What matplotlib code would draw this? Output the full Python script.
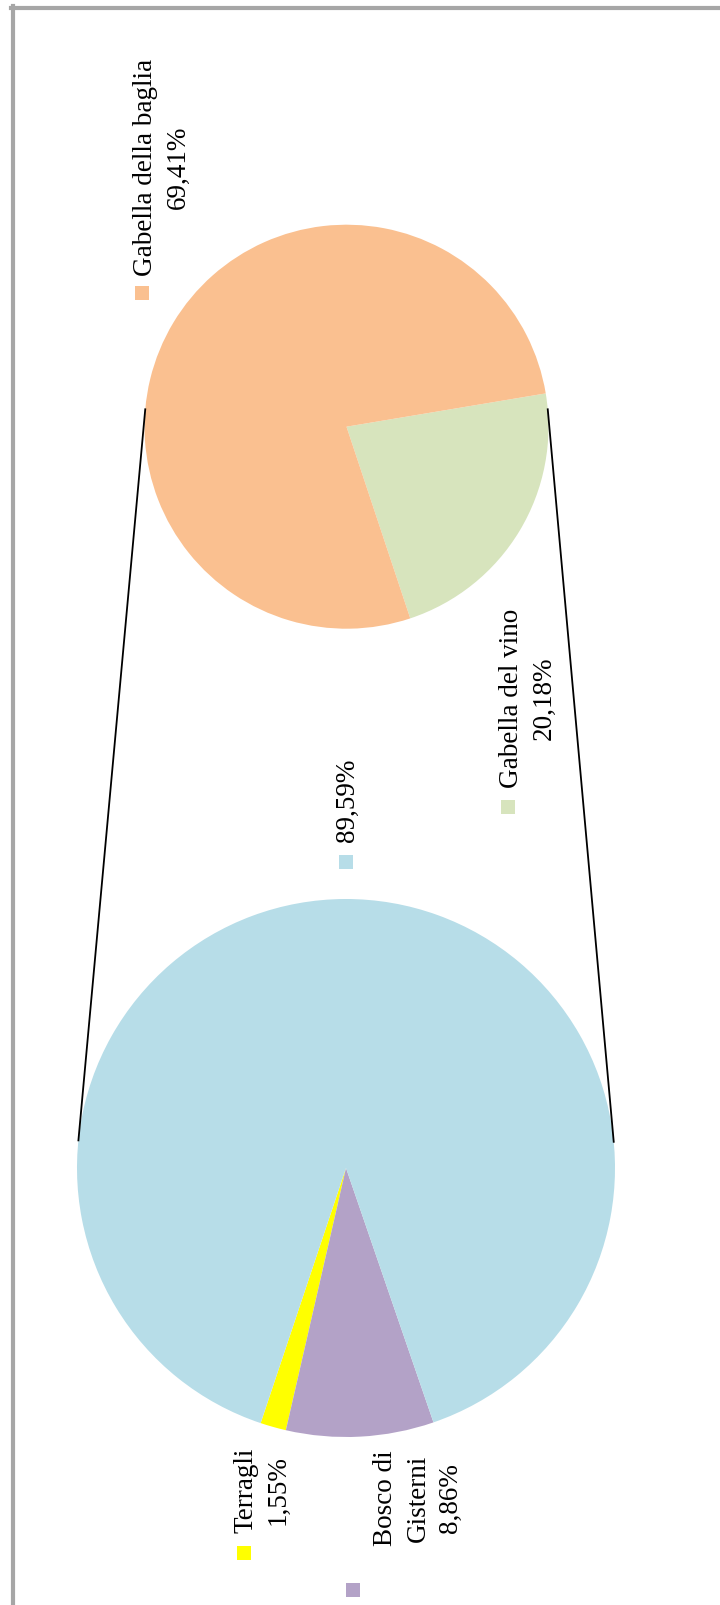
import numpy as np
import matplotlib
matplotlib.use("Agg")
import matplotlib.pyplot as plt
from matplotlib.lines import Line2D
from matplotlib.patches import Rectangle

# data
big_names   = ["Terragli", "Bosco di\nGisterni", ""]
big_values  = [1.55, 8.86, 89.59]
big_colors  = ["#FFFF00", "#B3A2C7", "#B7DDE8"]

small_names  = ["Gabella del vino", "Gabella della baglia"]
small_values = [20.18, 69.41]
small_colors = ["#D7E4BD", "#FAC090"]

W, H = 720, 1605
FONT = "Liberation Serif"


def pct(v):
    return f"{v:.2f}".replace(".", ",") + "%"


def py(y):
    # pixel row (top down) -> data y (bottom up)
    return H - y


fig = plt.figure(figsize=(W / 100, H / 100), dpi=100, facecolor="white")
ax = fig.add_axes([0, 0, 1, 1])

big_c, big_r = (346.0, py(1168.0)), 269.0
small_c, small_r = (346.5, py(426.7)), 202.0

ax.pie(big_values, colors=big_colors, startangle=251.5, counterclock=True,
       center=big_c, radius=big_r, wedgeprops=dict(linewidth=0))
ax.pie(small_values, colors=small_colors, startangle=-71.6, counterclock=True,
       center=small_c, radius=small_r, wedgeprops=dict(linewidth=0))

ax.set_xlim(0, W)
ax.set_ylim(0, H)
ax.set_aspect("equal")
ax.axis("off")

# connector lines between the two pies
for a_small, a_big in [(174.8, 174.3), (5.2, 5.4)]:
    xs = small_c[0] + small_r * np.cos(np.radians(a_small))
    ys = small_c[1] + small_r * np.sin(np.radians(a_small))
    xb = big_c[0] + big_r * np.cos(np.radians(a_big))
    yb = big_c[1] + big_r * np.sin(np.radians(a_big))
    ax.plot([xs, xb], [ys, yb], color="black", lw=1.3, solid_capstyle="butt")

# data labels (rotated, with legend key)
labels = [
    (small_names[1] + "\n" + pct(small_values[1]), (162, 167), (142, 292.5), small_colors[1]),
    (small_names[0] + "\n" + pct(small_values[0]), (528, 698), (508, 807), small_colors[0]),
    (pct(big_values[2]), (347, 800), (346, 862), big_colors[2]),
    (big_names[0] + "\n" + pct(big_values[0]), (262, 1490), (244, 1552.5), big_colors[0]),
    (big_names[1] + "\n" + pct(big_values[1]), (418, 1498), (353, 1590), big_colors[1]),
]
for text, (tx, ty), (mx, my), col in labels:
    ax.text(tx, py(ty), text, rotation=90, ha="center", va="center",
            multialignment="center", fontsize=19.5, family=FONT,
            linespacing=1.4, color="black")
    ax.add_patch(Rectangle((mx - 7, py(my) - 7), 14, 14, facecolor=col,
                           edgecolor="none"))

# page frame (left + top edges)
fig.add_artist(Line2D([12.5 / W, 12.5 / W], [0, 1 - 6 / H], color="#A6A6A6",
                      lw=3, transform=fig.transFigure))
fig.add_artist(Line2D([11 / W, 1], [1 - 7.5 / H, 1 - 7.5 / H], color="#A6A6A6",
                      lw=3, transform=fig.transFigure))

fig.savefig("out.png", dpi=100, facecolor="white")
